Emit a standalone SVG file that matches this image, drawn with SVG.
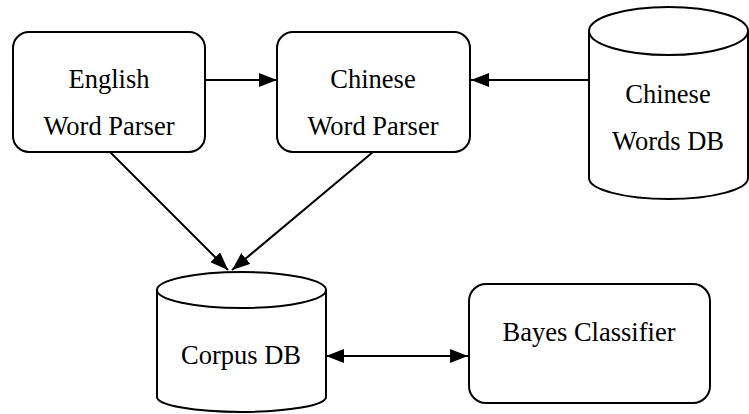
<svg xmlns="http://www.w3.org/2000/svg" width="749" height="414" viewBox="0 0 749 414">
<style>
.box{fill:#fff;stroke:#000;stroke-width:2}
.t{font-family:'Liberation Serif','Times New Roman',serif;font-size:26.5px;fill:#000;text-anchor:middle}
.c{stroke:#000;stroke-width:2;fill:none}
</style>
<defs>
<marker id="ah2" viewBox="0 0 18 14" refX="18" refY="7" markerWidth="18" markerHeight="14" markerUnits="userSpaceOnUse" orient="auto-start-reverse">
<path d="M0,0 L18,7 L0,14 z" fill="#000"/>
</marker>
</defs>
<rect width="749" height="414" fill="#fff"/>
<g id="connectors">
<line class="c" x1="205" y1="80" x2="277" y2="80" marker-end="url(#ah2)"/>
<line class="c" x1="589" y1="80" x2="471" y2="80" marker-end="url(#ah2)"/>
<line class="c" x1="110" y1="152" x2="228" y2="270" marker-end="url(#ah2)"/>
<line class="c" x1="373" y1="152" x2="232" y2="270" marker-end="url(#ah2)"/>
<line class="c" x1="326" y1="356" x2="468" y2="356" marker-start="url(#ah2)" marker-end="url(#ah2)"/>
</g>
<g id="english-parser">
<rect class="box" x="13" y="32" width="192" height="120" rx="16"/>
<text class="t" x="109" y="88">English</text>
<text class="t" x="109" y="135">Word Parser</text>
</g>
<g id="chinese-parser">
<rect class="box" x="277" y="32" width="193" height="120" rx="16"/>
<text class="t" x="373" y="88">Chinese</text>
<text class="t" x="373" y="135">Word Parser</text>
</g>
<g id="chinese-words-db">
<path class="box" d="M589,32 L589,178 A79.5,21 0 0 0 748,178 L748,32"/>
<ellipse class="box" cx="668.5" cy="31" rx="79.5" ry="24"/>
<text class="t" x="668" y="103">Chinese</text>
<text class="t" x="668" y="150">Words DB</text>
</g>
<g id="corpus-db">
<path class="box" d="M157,290 L157,397 A84.5,15 0 0 0 326,397 L326,290"/>
<ellipse class="box" cx="241.5" cy="290" rx="84.5" ry="18"/>
<text class="t" x="241" y="364">Corpus DB</text>
</g>
<g id="bayes-classifier">
<rect class="box" x="469" y="284" width="241" height="119" rx="17"/>
<text class="t" x="589" y="341">Bayes Classifier</text>
</g>
</svg>
